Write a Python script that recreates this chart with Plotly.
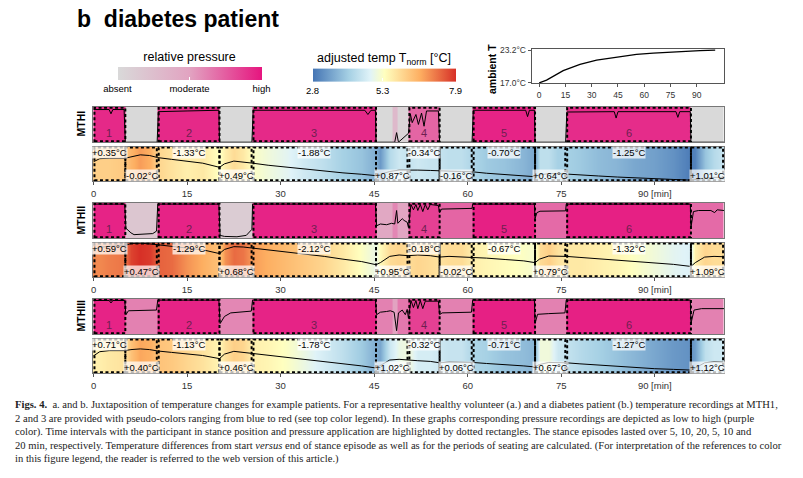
import plotly.graph_objects as go

W, H = 803, 478


def fx(px):
    return px / W


def fy(px):
    return 1 - px / H


# stance episodes [min]
stance_start = [0, 10.3, 25.5, 50.5, 60.8, 75.8]
stance_end = [5.1, 20.2, 45.3, 55.5, 70.8, 95.8]
t_end = 101.1
sensors = ['MTHI', 'MTHII', 'MTHIII']

# pressure colour per period (stance / seating alternating)
p_edges = [0, 5.1, 10.3, 20.2, 25.5, 45.3, 47.9, 48.7, 50.5, 55.5, 60.8, 70.8, 75.8, 95.8, 101.1]
p_col_1 = [0.93, 0.0, 0.93, 0.0, 0.93, 0.0, 0.3, 0.05, 0.72, 0.0, 0.95, 0.0, 0.92, 0.0]
p_col_2 = [0.95, 0.18, 0.95, 0.12, 0.95, 0.45, 0.6, 0.48, 0.85, 0.72, 0.96, 0.70, 0.96, 0.70]
p_col_3 = [0.95, 0.62, 0.95, 0.60, 0.95, 0.62, 0.5, 0.65, 0.85, 0.62, 0.96, 0.62, 0.96, 0.62]

# pressure curves (relative)
p_t_1 = [0, 2.5, 2.8, 3.1, 4.9, 5.1, 10.2, 10.4, 15, 20.1, 20.2, 25.4, 25.6, 35, 43.5, 44,
         44.5, 45.2, 45.3, 48.3, 48.6, 48.9, 50.5, 50.8, 51.1, 51.7, 52.1, 52.6, 53.0, 53.4,
         54.0, 55.3, 55.5, 60.7, 60.9, 69.3, 69.6, 69.9, 70.7, 70.8, 75.7, 75.9, 83.5, 83.8,
         84.1, 93.4, 93.7, 94.0, 95.7, 95.8, 101.1]
p_v_1 = [0.92, 0.92, 0.80, 0.92, 0.92, 0.0, 0.0, 0.86, 0.88, 0.90, 0.0, 0.0, 0.9, 0.9, 0.9, 0.78,
         0.9, 0.9, 0.0, 0.0, 0.27, 0.0, 0.25, 0.80, 0.55, 0.78, 0.50, 0.82, 0.45, 0.88,
         0.88, 0.88, 0.0, 0.0, 0.90, 0.90, 0.72, 0.90, 0.90, 0.0, 0.0, 0.85, 0.86, 0.68,
         0.86, 0.86, 0.70, 0.86, 0.86, 0.0, 0.0]
p_t_2 = [0, 5.0, 5.2, 6.0, 6.5, 8, 9.5, 10.1, 10.3, 20.1, 20.3, 21, 23, 24.5, 25.4, 25.5,
         45.2, 45.4, 46, 47, 47.8, 48.3, 48.6, 48.8, 49.5, 49.8, 50.3, 50.5, 50.9, 51.3, 51.7,
         52.0, 52.4, 52.8, 53.2, 53.6, 54.0, 55.3, 55.5, 55.8, 60.7, 60.8, 70.7, 70.8, 71.1,
         71.6, 75.7, 75.8, 95.7, 95.8, 96.2, 97, 99, 99.6, 100, 101.1]
p_v_2 = [0.96, 0.96, 0.28, 0.15, 0.10, 0.12, 0.13, 0.20, 0.96, 0.96, 0.08, 0.05, 0.04, 0.08, 0.25, 0.96,
         0.96, 0.35, 0.40, 0.38, 0.42, 0.40, 0.78, 0.42, 0.55, 0.50, 0.45, 0.30, 0.95, 0.80, 0.95,
         0.78, 0.95, 0.75, 0.95, 0.80, 0.95, 0.92, 0.72, 0.82, 0.84, 0.96, 0.96, 0.55, 0.72,
         0.76, 0.77, 0.96, 0.96, 0.30, 0.75, 0.78, 0.78, 0.72, 0.80, 0.78]
p_t_3 = [0, 2.5, 2.8, 3.1, 5.0, 5.2, 5.6, 10.1, 10.3, 20.1, 20.3, 21, 22, 25.3, 25.5, 45.2,
         45.4, 46, 47, 47.6, 48.2, 48.6, 48.9, 49.5, 50.0, 50.3, 50.5, 50.9, 51.3, 51.7, 52.0,
         52.4, 52.8, 53.2, 55.3, 55.5, 55.9, 60.6, 60.8, 70.7, 70.8, 71.2, 73, 75.6, 75.8,
         95.7, 95.8, 96.3, 97.5, 101.1]
p_v_3 = [0.95, 0.95, 0.88, 0.95, 0.95, 0.55, 0.66, 0.68, 0.96, 0.96, 0.30, 0.50, 0.60, 0.65, 0.96, 0.96,
         0.55, 0.62, 0.64, 0.66, 0.62, 0.10, 0.60, 0.68, 0.55, 0.70, 0.45, 0.95, 0.75, 0.95, 0.72,
         0.95, 0.72, 0.93, 0.93, 0.55, 0.60, 0.62, 0.96, 0.96, 0.30, 0.56, 0.58, 0.60, 0.96,
         0.96, 0.30, 0.68, 0.72, 0.72]

# temperature samples
t_grid = [0, 1, 2.5, 5, 6, 7.5, 9, 10.3, 12.5, 15, 17.5, 20.2, 21, 22.5, 24, 25.5,
          28, 31, 34, 37, 40, 43, 45.3, 46, 47.5, 49, 50.5, 52, 54, 55.5, 57, 59, 60.8,
          63, 66, 69, 70.8, 71.5, 73, 74.5, 75.8, 78, 81, 84, 87, 90, 93, 95.8, 96.5, 98, 99.5, 101]
# adjusted temperature T_norm [°C] (colour)
tn_1 = [6.1, 6.1, 6.1, 6.2, 6.5, 6.8, 6.6, 6.0, 5.8, 5.6, 5.7, 5.3, 5.6, 5.9, 5.7, 5.3,
        5.1, 4.9, 4.6, 4.4, 4.1, 3.9, 3.6, 3.3, 4.3, 4.6, 4.5, 4.6, 4.5, 4.5, 4.4, 4.4, 4.2,
        4.0, 3.9, 3.7, 3.5, 4.4, 4.4, 4.1, 4.1, 4.0, 3.8, 3.7, 3.5, 3.4, 3.2, 2.9, 3.0, 3.9, 4.3, 4.5]
tn_2 = [7.0, 7.0, 7.1, 7.2, 7.7, 7.9, 7.8, 7.4, 7.3, 6.9, 6.6, 6.3, 6.9, 7.3, 7.2, 6.8,
        6.6, 6.4, 6.2, 6.0, 5.7, 5.3, 5.0, 5.4, 5.9, 6.0, 5.9, 6.0, 5.9, 5.8, 5.9, 5.9, 5.6,
        5.5, 5.4, 5.3, 5.2, 5.9, 6.1, 5.8, 5.7, 5.7, 5.6, 5.5, 5.3, 5.1, 4.9, 4.8, 5.6, 6.0, 5.9, 5.9]
tn_3 = [5.6, 5.6, 5.7, 5.8, 6.3, 6.7, 6.6, 6.3, 6.2, 6.0, 5.8, 5.5, 5.8, 6.1, 6.0, 5.6,
        5.5, 5.3, 5.0, 4.7, 4.4, 4.0, 3.6, 3.5, 4.6, 5.0, 5.1, 4.7, 4.7, 4.6, 4.5, 4.5, 4.2,
        4.1, 3.9, 3.8, 3.7, 5.1, 5.1, 4.6, 4.5, 4.3, 4.1, 3.9, 3.7, 3.5, 3.3, 3.2, 3.4, 4.4, 4.6, 4.6]
# temperature curve (relative height in strip)
tl_1 = [0.56, 0.65, 0.66, 0.66, 0.70, 0.76, 0.74, 0.68, 0.63, 0.58, 0.52, 0.40, 0.50, 0.58, 0.56, 0.52,
        0.46, 0.40, 0.34, 0.29, 0.24, 0.20, 0.16, 0.20, 0.28, 0.32, 0.33, 0.32, 0.31, 0.29, 0.29, 0.28, 0.27,
        0.23, 0.19, 0.15, 0.13, 0.18, 0.22, 0.22, 0.21, 0.18, 0.15, 0.12, 0.09, 0.07, 0.05, 0.03, 0.05, 0.09, 0.11, 0.11]
tl_2 = [0.80, 0.86, 0.89, 0.91, 0.97, 0.98, 0.96, 0.93, 0.88, 0.84, 0.79, 0.68, 0.80, 0.88, 0.87, 0.84,
        0.78, 0.72, 0.66, 0.60, 0.52, 0.45, 0.36, 0.42, 0.60, 0.64, 0.62, 0.64, 0.62, 0.58, 0.60, 0.59, 0.58,
        0.55, 0.51, 0.47, 0.42, 0.52, 0.61, 0.61, 0.60, 0.57, 0.53, 0.49, 0.45, 0.41, 0.37, 0.31, 0.42, 0.58, 0.60, 0.59]
tl_3 = [0.50, 0.62, 0.65, 0.65, 0.68, 0.70, 0.68, 0.64, 0.60, 0.56, 0.51, 0.42, 0.55, 0.63, 0.60, 0.55,
        0.50, 0.44, 0.38, 0.32, 0.27, 0.21, 0.15, 0.22, 0.38, 0.40, 0.37, 0.36, 0.34, 0.30, 0.32, 0.32, 0.31,
        0.28, 0.25, 0.21, 0.18, 0.25, 0.31, 0.31, 0.30, 0.27, 0.23, 0.19, 0.16, 0.13, 0.11, 0.09, 0.15, 0.30, 0.33, 0.32]

# temperature differences: stance episodes and seating periods
d_stance = [['+0.35°C', '-1.33°C', '-1.88°C', '-0.34°C', '-0.70°C', '-1.25°C'],
            ['+0.59°C', '-1.29°C', '-2.12°C', '-0.18°C', '-0.67°C', '-1.32°C'],
            ['+0.71°C', '-1.13°C', '-1.78°C', '-0.32°C', '-0.71°C', '-1.27°C']]
d_seat = [['-0.02°C', '+0.49°C', '+0.87°C', '-0.16°C', '+0.64°C', '+1.01°C'],
          ['+0.47°C', '+0.68°C', '+0.95°C', '-0.02°C', '+0.79°C', '+1.09°C'],
          ['+0.40°C', '+0.46°C', '+1.02°C', '+0.06°C', '+0.67°C', '+1.12°C']]

# ambient temperature
amb_t = [0, 4.2, 13.7, 23.3, 32.8, 42.3, 49.9, 55.6, 65.2, 74.7, 84.2, 91.9, 100.6]
amb_v = [17.0, 17.5, 19.3, 20.5, 21.3, 21.7, 22.1, 22.4, 22.6, 22.8, 23.0, 23.1, 23.2]

p_cols = [p_col_1, p_col_2, p_col_3]
p_ts = [p_t_1, p_t_2, p_t_3]
p_vs = [p_v_1, p_v_2, p_v_3]
tns = [tn_1, tn_2, tn_3]
tls = [tl_1, tl_2, tl_3]

p_scale = [[0, '#d9d9d9'], [0.5, '#e2a3c1'], [1, '#e6157f']]
t_scale = [[0, '#4575b4'], [0.25, '#a5d0e4'], [0.4, '#e0f3f8'], [0.5, '#ffffbf'],
           [0.75, '#fdae61'], [1, '#d73027']]

FONT = 'Liberation Sans, Arial, sans-serif'
dots = dict(color='black', width=2, dash='3px,2.5px')

fig = go.Figure()
axes = {}
shapes = []
ann = []


def label(x, y, text, size, **kw):
    d = dict(xref='paper', yref='paper', x=x, y=y, text=text, showarrow=False,
             xanchor='center', yanchor='middle', font=dict(size=size, color='black'))
    d.update(kw)
    return d


strip_x = [fx(92.9), fx(724)]
frame = dict(showline=True, mirror=True, linecolor='#777', linewidth=1,
             showgrid=False, zeroline=False)

for i in range(3):
    top = 106.7 + 96 * i
    pa, ta = 2 + 2 * i, 3 + 2 * i
    axes[f'xaxis{pa}'] = dict(domain=strip_x, range=[-0.1, t_end], showticklabels=False,
                              ticks='', anchor=f'y{pa}', **frame)
    axes[f'yaxis{pa}'] = dict(domain=[fy(top + 35.5), fy(top)], range=[0, 1],
                              showticklabels=False, ticks='', anchor=f'x{pa}', **frame)
    axes[f'xaxis{ta}'] = dict(domain=strip_x, range=[-0.1, t_end], anchor=f'y{ta}',
                              tickvals=[0, 15, 30, 45, 60, 75, 90],
                              ticktext=['0', '15', '30', '45', '60', '75', '90 [min]'],
                              ticks='outside', ticklen=3, tickcolor='#555',
                              tickfont=dict(size=9.5, color='#333'), **frame)
    axes[f'yaxis{ta}'] = dict(domain=[fy(top + 74.5), fy(top + 39.8)], range=[0, 1],
                              showticklabels=False, ticks='', anchor=f'x{ta}', **frame)

    fig.add_trace(go.Heatmap(x=p_edges, y=[0, 1], z=[p_cols[i]], coloraxis='coloraxis',
                             xaxis=f'x{pa}', yaxis=f'y{pa}', hoverinfo='skip'))
    fig.add_trace(go.Scatter(x=p_ts[i], y=p_vs[i], mode='lines', xaxis=f'x{pa}', yaxis=f'y{pa}',
                             line=dict(color='black', width=1), hoverinfo='skip'))
    fig.add_trace(go.Heatmap(x=t_grid, y=[0, 1], z=[tns[i], tns[i]], zsmooth='best',
                             coloraxis='coloraxis2', xaxis=f'x{ta}', yaxis=f'y{ta}',
                             hoverinfo='skip'))
    fig.add_trace(go.Scatter(x=t_grid, y=tls[i], mode='lines', xaxis=f'x{ta}', yaxis=f'y{ta}',
                             line=dict(color='black', width=1), hoverinfo='skip'))

    seat_start = stance_end
    seat_end = stance_start[1:] + [t_end]
    for k in range(6):
        s0, s1 = stance_start[k], stance_end[k]
        shapes.append(dict(type='rect', xref=f'x{pa}', yref=f'y{pa}', x0=s0 + 0.15, x1=s1,
                           y0=0.03, y1=0.97, line=dots))
        shapes.append(dict(type='rect', xref=f'x{ta}', yref=f'y{ta}', x0=s0 + 0.15, x1=s1,
                           y0=0.03, y1=0.97, line=dots))
        shapes.append(dict(type='rect', xref=f'x{ta}', yref=f'y{ta}', x0=seat_start[k],
                           x1=seat_end[k] - 0.15, y0=0.03, y1=0.97, line=dots))
        ann.append(label((s0 + s1) / 2, 0.02, str(k + 1), 11, xref=f'x{pa}', yref=f'y{pa}',
                         yanchor='bottom', font=dict(size=11, color='#6e1f50')))
        ann.append(label((s0 + s1) / 2, 0.83, d_stance[i][k], 9.5, xref=f'x{ta}', yref=f'y{ta}',
                         borderpad=0, bgcolor='rgba(255,255,255,0.72)'))
        ann.append(label((seat_start[k] + seat_end[k]) / 2, 0.15, d_seat[i][k], 9.5,
                         xref=f'x{ta}', yref=f'y{ta}', borderpad=0,
                         bgcolor='rgba(255,255,255,0.72)'))
    ann.append(label(fx(80.5), fy(124 + 96 * i), f'<b>{sensors[i]}</b>', 10.5, textangle=-90))

# ambient temperature inset
fig.add_trace(go.Scatter(x=amb_t, y=amb_v, mode='lines', line=dict(color='black', width=1.3),
                         xaxis='x', yaxis='y', hoverinfo='skip'))
axes['xaxis'] = dict(domain=[fx(531.7), fx(724.3)], range=[-4.3, 105.8], anchor='y',
                     tickvals=[0, 15, 30, 45, 60, 75, 90], ticks='outside', ticklen=3,
                     tickcolor='#555', tickfont=dict(size=8.5, color='#333'),
                     showline=True, mirror=True, linecolor='#555', showgrid=False, zeroline=False)
axes['yaxis'] = dict(domain=[fy(83.3), fy(49)], range=[16.9, 23.4], anchor='x',
                     tickvals=[17.0, 23.2], ticktext=['17.0°C', '23.2°C'], ticks='outside',
                     ticklen=3, tickcolor='#555', tickfont=dict(size=8.5, color='#333'),
                     showline=True, mirror=True, linecolor='#555', showgrid=False, zeroline=False)
ann.append(label(fx(492), fy(69), '<b>ambient T</b>', 10.5, textangle=-90))

ann.append(label(fx(75), fy(19), '<b>b&nbsp; diabetes patient</b>', 23, xanchor='left'))

caption = [
    '<b>Figs. 4.</b>  a. and b. Juxtaposition of temperature changes for example patients. For a representative healthy volunteer (a.) and a diabetes patient (b.) temperature recordings at MTH1,',
    '2 and 3 are provided with pseudo-colors ranging from blue to red (see top color legend). In these graphs corresponding pressure recordings are depicted as low to high (purple',
    'color). Time intervals with the participant in stance position and pressure application are highlighted by dotted rectangles. The stance episodes lasted over 5, 10, 20, 5, 10 and',
    '20 min, respectively. Temperature differences from start <i>versus</i> end of stance episode as well as for the periods of seating are calculated. (For interpretation of the references to color',
    'in this figure legend, the reader is referred to the web version of this article.)',
]
for j, line in enumerate(caption):
    ann.append(label(fx(13), fy(405 + 13.6 * j), line, 10.6, xanchor='left',
                     font=dict(size=10.6, color='#222', family='Liberation Serif, serif')))

fig.update_layout(
    width=W, height=H, margin=dict(l=0, r=0, t=0, b=0, autoexpand=False),
    paper_bgcolor='white', plot_bgcolor='white', showlegend=False,
    font=dict(family=FONT, color='black'),
    coloraxis=dict(cmin=0, cmax=1, colorscale=p_scale, colorbar=dict(
        orientation='h', x=fx(189.5), xanchor='center', y=fy(53), yanchor='top',
        len=144.4, lenmode='pixels', thickness=13.3, xpad=0, ypad=0, outlinewidth=0,
        tickvals=[0, 0.5, 1], ticktext=['absent', 'moderate', 'high'],
        ticks='inside', ticklen=3, tickcolor='white', tickfont=dict(size=9.5),
        title=dict(text='relative pressure', side='top', font=dict(size=12.5)))),
    coloraxis2=dict(cmin=2.8, cmax=7.9, colorscale=t_scale, colorbar=dict(
        orientation='h', x=fx(384), xanchor='center', y=fy(53), yanchor='top',
        len=143.4, lenmode='pixels', thickness=13.3, xpad=0, ypad=0, outlinewidth=0,
        tickvals=[2.8, 5.3, 7.9], ticktext=['2.8', '5.3', '7.9'],
        ticks='inside', ticklen=3, tickcolor='white', tickfont=dict(size=9.5),
        title=dict(text='adjusted temp T<sub>norm</sub> [°C]', side='top', font=dict(size=12.5)))),
    shapes=shapes, annotations=ann,
    **axes,
)

fig.write_html('out.html', config={'displayModeBar': False},
               post_script="document.body.style.margin='0px';")
